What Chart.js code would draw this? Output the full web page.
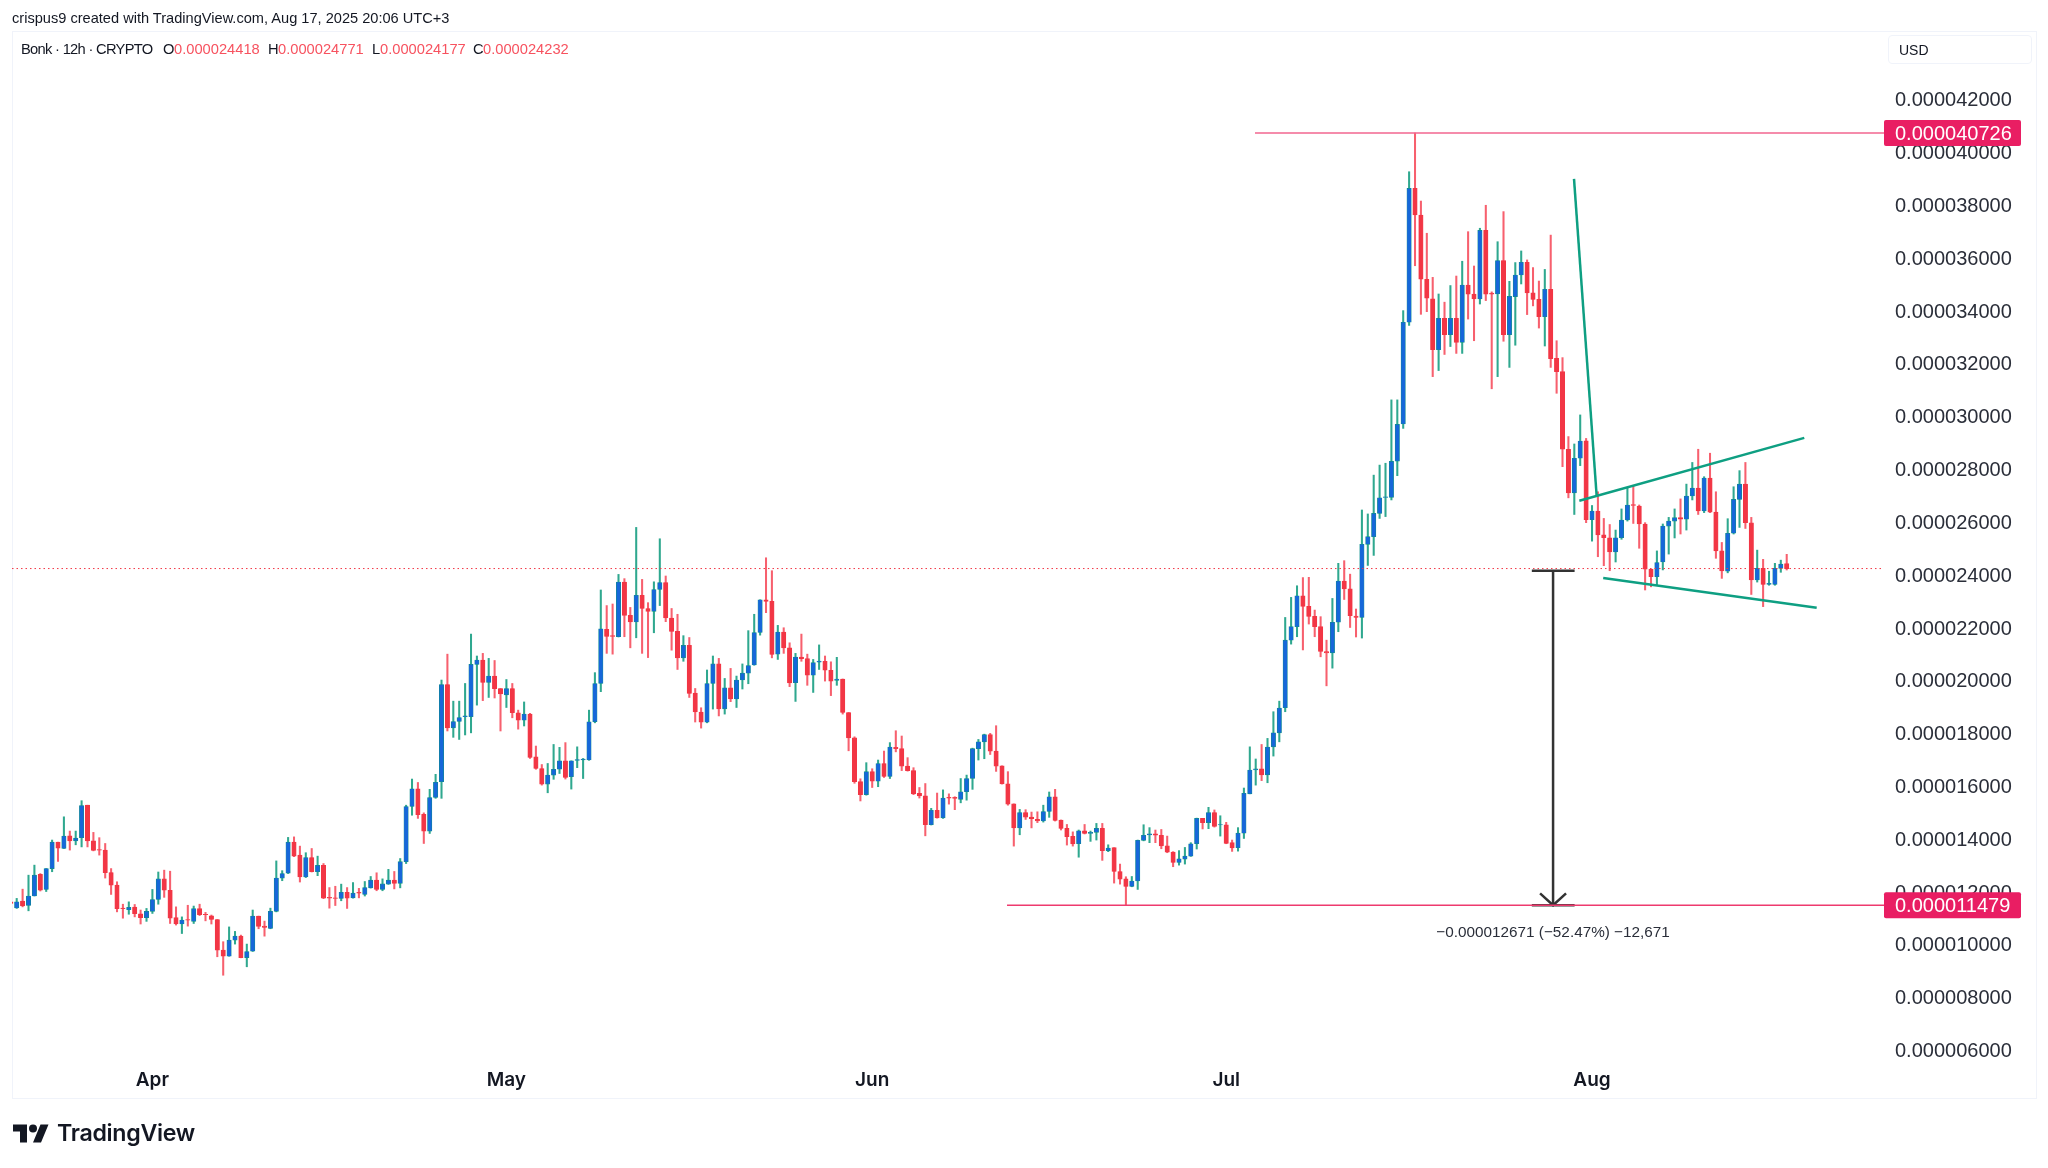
<!DOCTYPE html>
<html>
<head>
<meta charset="utf-8">
<title>Bonk 12h</title>
<script src="https://cdn.jsdelivr.net/npm/chart.js@4/dist/chart.umd.js"></script>
<style>
  html, body { margin: 0; padding: 0; background: #fff; overflow: hidden; }
  body { width: 2048px; height: 1168px; position: relative; font-family: "Liberation Sans", sans-serif; color: #131722; }
  canvas { position: absolute; left: 0; top: 0; }
  .txt { position: absolute; white-space: nowrap; line-height: 20px; font-size: 14.7px; }
  .up { color: #f7525f; }
  #frame { position: absolute; left: 12px; top: 31px; width: 2023px; height: 1066px; border: 1px solid #f0f3fa; }
  #usd { position: absolute; left: 1888px; top: 35px; width: 144px; height: 29px; border: 1px solid #f0f3fa; border-radius: 4px; box-sizing: border-box; padding: 1px 0 0 10px; font-size: 14px; line-height: 27px; }
  #logo { position: absolute; left: 13px; top: 1124px; }
  #brand { position: absolute; left: 57px; top: 1117px; font: 600 23.2px/32px Inter, sans-serif; color: #131722; letter-spacing: -0.3px; }
</style>
</head>
<body>
<div id="frame"></div>
<canvas id="chart" width="2048" height="1168"></canvas>
<div class="txt" style="left:12px;top:8px;font-size:14.6px">crispus9 created with TradingView.com, Aug 17, 2025 20:06 UTC+3</div>
<div class="txt" style="left:21px;top:39px;letter-spacing:-0.7px">Bonk · 12h · CRYPTO</div>
<div class="txt" style="left:163px;top:39px">O</div>
<div class="txt up" style="left:174px;top:39px">0.000024418</div>
<div class="txt" style="left:268px;top:39px">H</div>
<div class="txt up" style="left:278px;top:39px">0.000024771</div>
<div class="txt" style="left:372px;top:39px">L</div>
<div class="txt up" style="left:380px;top:39px">0.000024177</div>
<div class="txt" style="left:473px;top:39px">C</div>
<div class="txt up" style="left:483px;top:39px">0.000024232</div>
<div id="usd">USD</div>
<svg id="logo" width="36" height="19" viewBox="0 4 36 18"><path fill="#131722" d="M14 22H7V11H0V4h14v18zM28 22h-8l7.5-18h8L28 22z"/><circle fill="#131722" cx="20" cy="8" r="4"/></svg>
<div id="brand">TradingView</div>
<script>
// Prices are in millionths of a dollar, x is the candle number
const opens = [
  11.61,11.38,11.64,11.47,11.83,12.65,12.08,12.87,13.87,13.63,
  14.11,13.92,14.04,15.27,13.92,13.59,13.57,12.72,12.24,11.37,
  11.31,11.41,11.16,11.01,11.25,11.7,12.48,12.05,11.01,10.77,
  10.94,10.87,11.35,11.14,11.08,10.94,9.78,9.55,10.16,10.31,
  9.5,9.74,11.07,10.69,10.6,11.25,12.51,12.7,13.87,13.38,
  12.55,13.29,12.75,12.99,11.78,11.76,11.74,11.97,11.76,11.97,
  11.89,12.14,12.43,12.08,12.28,12.43,12.31,13.13,15.22,15.89,
  14.92,14.29,15.56,16.16,19.84,18.2,18.44,18.62,18.62,20.6,
  20.77,19.92,20.16,19.69,19.45,19.69,18.77,18.49,18.72,17.1,
  16.66,16.07,16.41,16.63,16.95,16.35,16.97,16.98,16.98,18.43,
  19.88,21.93,21.69,21.65,23.72,22.46,22.21,23.22,22.72,22.61,
  23.44,23.7,22.36,21.85,20.85,21.32,19.52,18.8,18.41,19.88,
  20.62,18.92,19.71,19.29,20.01,20.27,20.58,21.81,23.05,22.99,
  20.99,21.83,21.23,19.91,20.88,20.82,20.19,20.69,20.72,20.38,
  20.0,20.05,18.78,17.82,16.16,15.67,16.54,16.18,16.85,16.36,
  17.46,17.41,16.75,16.58,15.72,15.62,14.53,15.08,14.79,15.57,
  15.57,15.49,15.78,16.28,17.41,17.67,17.94,17.32,16.76,16.08,
  15.32,14.41,14.99,14.82,14.73,14.67,15.03,15.59,14.71,14.39,
  14.09,13.81,14.3,14.2,14.24,14.39,13.55,13.66,12.76,12.48,
  12.19,12.4,13.94,14.14,14.19,14.13,13.73,13.49,13.1,13.23,
  13.34,13.81,14.77,14.61,14.99,14.52,14.53,13.85,13.66,14.21,
  15.7,16.61,16.65,16.42,17.48,18.01,18.96,21.52,22.03,23.2,
  22.8,22.42,22.03,21.09,21.04,22.2,23.76,23.46,22.43,22.38,
  25.15,25.44,26.32,26.93,26.93,28.3,29.71,33.56,38.63,37.62,
  35.19,34.45,32.52,33.71,33.09,33.71,32.8,34.97,34.63,34.44,
  37.04,34.66,34.63,35.9,33.09,34.53,35.35,35.83,34.67,34.43,
  33.77,34.81,32.19,31.69,28.75,27.1,28.41,29.07,26.08,26.41,
  25.51,25.4,24.86,25.4,26.07,26.65,26.6,25.92,24.21,23.92,
  24.48,25.84,26.03,26.16,26.1,26.98,27.28,26.41,27.66,26.37,
  24.9,24.13,25.57,26.85,27.43,25.96,23.8,24.24,23.63,23.63,
  24.24,24.418
];
const highs = [
  11.93,11.74,12.09,12.62,13.0,12.68,12.87,13.95,13.87,14.83,
  14.29,14.29,15.44,15.27,14.24,14.04,13.82,12.87,12.37,11.52,
  11.61,11.51,11.3,11.36,12.08,12.74,12.81,12.77,11.42,11.04,
  11.48,11.45,11.52,11.21,11.11,10.94,10.1,10.66,10.49,10.35,
  10.01,11.3,11.07,10.88,11.37,13.16,12.79,14.05,14.07,13.72,
  13.47,13.63,13.34,13.06,12.15,12.2,12.28,12.15,12.34,12.12,
  12.38,12.57,12.71,12.48,12.84,12.76,13.25,15.27,16.26,16.13,
  14.98,15.87,16.44,20.01,20.99,19.21,19.21,19.88,21.75,20.92,
  21.02,20.83,20.75,19.69,20.03,19.88,18.87,19.18,18.75,17.51,
  16.81,16.85,17.57,17.46,17.64,16.95,17.48,17.04,18.87,20.29,
  23.42,22.83,22.89,24.01,23.85,22.76,25.79,23.82,22.94,23.73,
  25.36,23.95,22.72,22.5,21.69,21.62,19.69,18.96,20.39,20.92,
  20.83,20.07,20.45,20.16,20.62,21.88,22.5,23.05,24.64,24.15,
  22.08,21.99,21.42,21.02,21.75,20.99,20.79,21.34,20.92,20.7,
  20.87,20.05,18.78,17.86,16.27,16.88,16.65,16.98,17.32,17.64,
  18.09,17.89,17.07,16.69,15.94,16.09,15.15,15.73,15.85,15.7,
  15.59,16.28,16.41,17.43,17.76,17.96,17.99,18.28,16.76,16.54,
  15.32,15.11,15.1,15.01,15.02,15.27,15.77,15.87,14.71,14.54,
  14.26,14.33,14.54,14.29,14.58,14.58,13.77,13.66,13.04,12.56,
  12.57,13.95,14.53,14.42,14.33,14.35,14.1,13.51,13.55,13.67,
  13.85,14.78,14.77,15.19,15.09,14.87,14.62,13.95,14.42,15.92,
  17.48,17.02,17.57,17.8,18.81,19.21,22.38,23.14,23.58,23.89,
  23.9,22.66,22.41,21.52,23.1,24.43,24.53,24.02,22.7,26.45,
  26.3,27.77,28.15,28.22,30.62,30.62,34.0,39.26,40.726,38.15,
  36.93,35.26,34.63,34.32,34.95,35.31,35.87,36.99,35.69,37.12,
  37.99,34.71,36.61,37.75,35.11,35.82,36.26,35.92,35.63,35.12,
  35.56,36.86,32.86,32.22,29.23,28.95,30.05,29.16,26.62,27.14,
  26.13,25.9,25.69,26.49,27.27,27.36,26.64,25.97,24.21,24.9,
  25.92,26.17,26.49,26.87,27.43,28.25,28.75,27.71,28.6,27.14,
  25.22,26.12,27.33,27.94,28.25,26.17,24.93,24.58,24.13,24.43,
  24.55,24.771
];
const lows = [
  11.38,11.36,11.42,11.27,11.83,12.02,12.0,12.75,13.14,13.63,
  13.57,13.77,13.69,13.69,13.54,13.38,12.51,11.89,11.23,10.99,
  11.14,11.04,10.77,10.87,11.17,11.52,11.78,10.79,10.73,10.41,
  10.69,10.79,11.09,10.89,10.77,9.53,8.83,9.55,10.01,9.49,
  9.15,9.73,10.59,10.31,10.59,11.23,12.41,12.68,13.32,12.36,
  12.53,12.74,12.6,11.73,11.37,11.47,11.65,11.36,11.75,11.76,
  11.83,12.13,12.03,12.03,12.27,12.1,12.14,13.06,14.89,14.77,
  13.82,14.2,15.53,15.53,18.08,17.84,17.76,17.93,18.01,19.06,
  19.23,19.35,19.33,18.08,18.97,18.58,18.15,18.27,17.04,16.63,
  16.03,15.74,16.25,16.47,16.26,15.88,16.69,16.28,16.97,18.39,
  19.57,21.02,20.99,21.64,21.65,21.23,21.61,21.02,20.86,21.8,
  22.83,22.22,21.14,20.41,20.72,19.35,18.42,18.19,18.39,18.91,
  18.65,18.72,19.19,18.97,19.67,19.87,20.57,21.71,22.56,20.85,
  20.79,21.02,19.76,19.2,20.72,19.81,19.54,20.41,19.97,19.42,
  19.81,18.72,17.33,16.1,15.43,15.65,15.94,15.97,16.32,16.28,
  17.29,16.58,16.56,15.67,15.54,14.11,14.52,14.78,14.77,15.31,
  15.1,15.36,15.46,15.87,16.98,17.03,17.19,16.55,16.07,15.27,
  13.72,14.15,14.73,14.41,14.61,14.63,14.81,14.67,14.33,13.76,
  13.72,13.3,14.18,13.9,13.95,13.18,13.51,12.32,12.28,11.479,
  12.18,12.08,13.92,13.85,13.85,13.62,13.47,12.94,13.0,13.04,
  13.33,13.61,14.37,14.38,14.44,14.1,13.81,13.52,13.53,14.01,
  15.7,16.03,16.2,16.12,17.13,17.67,18.81,21.37,21.65,21.15,
  22.13,21.65,20.89,19.79,20.46,21.84,23.06,22.0,21.64,21.6,
  24.35,24.73,26.13,26.2,26.83,27.75,29.54,33.44,35.7,33.86,
  33.96,31.5,31.73,32.34,32.64,32.38,32.38,33.68,32.86,34.25,
  34.38,31.04,31.5,32.84,31.85,32.69,35.01,33.85,34.18,33.34,
  32.66,31.85,30.87,28.09,26.91,26.28,28.13,25.97,25.27,24.68,
  24.34,24.15,24.48,25.34,26.03,25.94,25.0,23.42,23.54,23.61,
  24.18,24.78,25.39,25.54,25.69,26.83,26.28,26.35,26.35,24.62,
  23.86,24.07,25.54,25.79,25.75,23.25,23.72,22.79,23.6,23.6,
  24.09,24.177
];
const closes = [
  11.55,11.61,11.46,11.83,12.62,12.05,12.87,13.87,13.64,14.1,
  13.92,14.02,15.26,13.92,13.56,13.57,12.71,12.24,11.35,11.35,
  11.4,11.16,11.01,11.25,11.7,12.48,12.05,10.99,10.77,10.92,
  10.92,11.35,11.12,11.12,10.94,9.78,9.55,10.16,10.31,9.5,
  9.73,11.07,10.68,10.64,11.25,12.51,12.68,13.87,13.34,12.55,
  13.29,12.75,12.99,11.75,11.75,11.74,11.97,11.75,11.94,11.94,
  12.15,12.43,12.08,12.29,12.43,12.31,13.13,15.22,15.89,14.91,
  14.29,15.56,16.14,19.84,18.2,18.44,18.59,18.65,20.6,20.77,
  19.92,20.16,19.68,19.48,19.69,18.77,18.49,18.72,17.08,16.66,
  16.07,16.41,16.63,16.95,16.32,16.95,17.0,17.02,18.43,19.88,
  21.95,21.66,21.66,23.72,22.46,22.21,23.22,22.72,22.61,23.44,
  23.7,22.36,21.85,20.85,21.32,19.5,18.8,18.41,19.88,20.62,
  18.92,19.71,19.29,20.01,20.27,20.56,21.81,23.05,22.99,20.98,
  21.83,21.23,19.9,20.88,20.82,20.19,20.67,20.73,20.38,19.97,
  20.05,18.78,17.82,16.16,15.67,16.54,16.18,16.85,16.36,17.47,
  17.41,16.75,16.58,15.7,15.62,14.53,15.08,14.79,15.54,15.54,
  15.53,15.78,16.28,17.41,17.67,17.94,17.32,16.75,16.08,15.31,
  14.41,14.99,14.82,14.76,14.67,15.03,15.59,14.69,14.39,14.08,
  13.8,14.3,14.2,14.24,14.39,13.55,13.65,12.76,12.47,12.19,
  12.4,13.94,14.13,14.19,14.13,13.73,13.49,13.1,13.24,13.34,
  13.81,14.77,14.61,14.99,14.47,14.54,13.82,13.65,14.21,15.72,
  16.6,16.65,16.42,17.47,18.01,18.95,21.52,22.03,23.2,22.8,
  22.42,22.03,21.09,21.04,22.2,23.76,23.46,22.45,22.38,25.15,
  25.44,26.32,26.91,26.95,28.29,29.69,33.56,38.63,37.62,35.19,
  34.47,32.52,33.71,33.09,33.71,32.8,34.97,34.62,34.44,37.04,
  34.62,34.62,35.9,33.09,34.54,35.35,35.83,34.67,34.42,33.77,
  34.81,32.18,31.69,28.75,27.1,28.41,29.06,26.08,26.41,25.51,
  25.4,24.86,25.4,26.07,26.64,26.62,25.92,24.21,23.92,24.46,
  25.84,26.03,26.16,26.1,26.98,27.28,26.41,27.66,26.37,24.9,
  24.14,25.57,26.85,27.43,25.97,23.8,24.24,23.63,23.67,24.24,
  24.4,24.232
];

const monthTicks = [24, 84, 146, 206, 268];
const monthLabels = ['Apr', 'May', 'Jun', 'Jul', 'Aug'];
const priceTicks = [6, 8, 10, 12, 14, 16, 18, 20, 22, 24, 26, 28, 30, 32, 34, 36, 38, 40, 42];

// Drawn lines, as [candle number, price] pairs
const lastPrice = 24.232;
const highLevel = 40.726;
const lowLevel = 11.479;
const measureTop = 24.15;
const xMin = 0.203;
const xMax = 317.49;
const highLine = [[210.88, highLevel], [xMax, highLevel]];
const lowLine = [[168.85, lowLevel], [xMax, lowLevel]];
const dropLine = [[264.95, 38.99], [268.8, 26.95]];
const upperChannel = [[265.85, 26.8], [303.98, 29.18]];
const lowerChannel = [[269.9, 23.87], [306.08, 22.75]];
const measureShaft = [[261.4, measureTop], [261.4, lowLevel]];
const measureTopCap = [[257.8, measureTop], [265.05, measureTop]];
const measureBottomCap = [[257.8, lowLevel], [265.05, lowLevel]];
const measureHead = [[259.2, 11.93], [261.4, lowLevel], [263.6, 11.93]];

const UP_BODY = '#1667d9';
const UP_EDGE = '#0f8f8a';
const UP_WICK = '#2fa88f';
const DOWN_BODY = '#f23645';
const DOWN_WICK = '#f7606e';

const isUp = opens.map((o, i) => closes[i] >= o);

function lineSet(points, color, width, extra) {
  return Object.assign({
    type: 'line',
    data: points.map(p => ({ x: p[0], y: p[1] })),
    borderColor: color,
    borderWidth: width,
    pointRadius: 0,
    fill: false,
    tension: 0,
    order: 1
  }, extra);
}

function priceLabel(v) {
  return (v / 1e6).toFixed(9);
}

// Price tags on the axis and the measure text
const overlays = {
  id: 'overlays',
  afterDraw(chart) {
    const ctx = chart.ctx;
    const y = chart.scales.y;
    const x = chart.scales.x;
    ctx.save();
    [highLevel, lowLevel].forEach(level => {
      const py = y.getPixelForValue(level);
      ctx.fillStyle = '#e91e63';
      ctx.beginPath();
      ctx.roundRect(x.right, py - 13, 137, 26, 2);
      ctx.fill();
      ctx.fillStyle = '#fff';
      ctx.font = '20px "Liberation Sans"';
      ctx.textAlign = 'left';
      ctx.textBaseline = 'middle';
      ctx.fillText(priceLabel(level), x.right + 11, py + 1.5);
    });
    ctx.fillStyle = '#2a2e39';
    ctx.font = '15.3px "Liberation Sans"';
    ctx.textAlign = 'center';
    ctx.textBaseline = 'middle';
    ctx.fillText('\u22120.000012671 (\u221252.47%) \u221212,671', x.getPixelForValue(261.4), y.getPixelForValue(lowLevel) + 27);
    ctx.restore();
  }
};

new Chart(document.getElementById('chart'), {
  data: {
    datasets: [
      {
        type: 'bar',
        data: opens.map((o, i) => ({ x: i, y: [lows[i], highs[i]] })),
        backgroundColor: isUp.map(u => u ? UP_WICK : DOWN_WICK),
        barThickness: 1.4,
        grouped: false,
        order: 3
      },
      {
        type: 'bar',
        data: opens.map((o, i) => ({ x: i, y: [o, closes[i]] })),
        backgroundColor: isUp.map(u => u ? UP_BODY : DOWN_BODY),
        borderColor: isUp.map(u => u ? UP_EDGE : DOWN_BODY),
        borderWidth: 0.6,
        borderSkipped: false,
        barThickness: 4.4,
        grouped: false,
        order: 2
      },
      lineSet([[xMin, lastPrice], [xMax, lastPrice]], '#f23645', 1, { borderDash: [1.5, 3] }),
      lineSet(highLine, '#f2668f', 1.5),
      lineSet(lowLine, '#ee3a6e', 1.5),
      lineSet(dropLine, '#0e9f82', 2.5),
      lineSet(upperChannel, '#0e9f82', 2.5),
      lineSet(lowerChannel, '#0e9f82', 2.5),
      lineSet(measureShaft, '#333333', 2.5),
      lineSet(measureTopCap, '#333333', 2.5),
      lineSet(measureBottomCap, '#333333', 2.5),
      lineSet(measureHead, '#333333', 2.5)
    ]
  },
  options: {
    responsive: false,
    animation: false,
    devicePixelRatio: 1,
    layout: { padding: { left: 12, top: 31, right: 12, bottom: 71 } },
    plugins: { legend: { display: false }, tooltip: { enabled: false } },
    scales: {
      x: {
        type: 'linear',
        offset: false,
        min: xMin,
        max: xMax,
        grid: { display: false },
        border: { display: false },
        afterFit: s => { s.height = 37; },
        afterBuildTicks: s => { s.ticks = monthTicks.map(v => ({ value: v })); },
        ticks: {
          autoSkip: false,
          maxRotation: 0,
          padding: 1,
          color: '#131722',
          font: { family: 'Inter', size: 19, weight: '600' },
          callback: v => monthLabels[monthTicks.indexOf(v)]
        }
      },
      y: {
        type: 'linear',
        position: 'right',
        min: 5.62,
        max: 44.59,
        grid: { display: false, drawTicks: false },
        border: { display: false },
        afterFit: s => { s.width = 152; },
        afterBuildTicks: s => { s.ticks = priceTicks.map(v => ({ value: v })); },
        ticks: {
          autoSkip: false,
          padding: 11,
          labelOffset: 1.5,
          color: '#2a2e39',
          font: { family: 'Liberation Sans', size: 20 },
          callback: v => priceLabel(v)
        }
      }
    }
  },
  plugins: [overlays]
});
</script>
</body>
</html>
